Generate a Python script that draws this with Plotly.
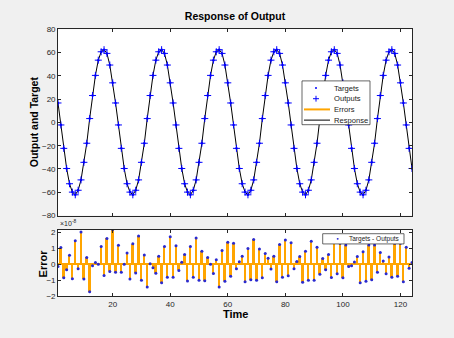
import plotly.graph_objects as go

# ---------------- data ----------------
time_steps = list(range(1, 125))

targets = [
    16.7, -2.2, -22.3, -39.6, -52.7, -59.9, -62.2, -58.3, -49.4, -34.3, -17.9, 3.3, 23.1, 40.4, 53.5, 60.7, 62.5, 59.3, 49.3, 34.0,
    16.7, -2.2, -22.3, -39.6, -52.7, -59.9, -62.2, -58.3, -49.4, -34.3, -17.9, 3.3, 23.1, 40.4, 53.5, 60.7, 62.5, 59.3, 49.3, 34.0,
    16.7, -2.2, -22.3, -39.6, -52.7, -59.9, -62.2, -58.3, -49.4, -34.3, -17.9, 3.3, 23.1, 40.4, 53.5, 60.7, 62.5, 59.3, 49.3, 34.0,
    16.7, -2.2, -22.3, -39.6, -52.7, -59.9, -62.2, -58.3, -49.4, -34.3, -17.9, 3.3, 23.1, 40.4, 53.5, 60.7, 62.5, 59.3, 49.3, 34.0,
    16.7, -2.2, -22.3, -39.6, -52.7, -59.9, -62.2, -58.3, -49.4, -34.3, -17.9, 3.3, 23.1, 40.4, 53.5, 60.7, 62.5, 59.3, 49.3, 34.0,
    16.7, -2.2, -22.3, -39.6, -52.7, -59.9, -62.2, -58.3, -49.4, -34.3, -17.9, 3.3, 23.1, 40.4, 53.5, 60.7, 62.5, 59.3, 49.3, 34.0,
    16.7, -2.2, -22.3, -39.6,
]

# errors (Targets - Outputs) in units of 1e-8
errors_e8 = [
    -0.15, 1.03, -0.85, -0.35, 0.55, -0.9, 1.45, -0.28, 2.0, -0.92,
    0.42, -1.72, -0.1, 0.1, 0.0, 1.1, -0.7, 1.6, -0.45, 2.15,
    -0.5, 1.17, -0.5, 0.0, 0.7, -0.92, 1.27, -0.55, 1.75, -1.0,
    0.57, -1.42, 0.02, -0.22, -0.57, 0.5, -1.15, 1.1, -0.82, 1.7,
    -0.82, 1.15, -0.4, 0.12, 0.6, -1.05, 1.1, -0.82, 1.63, -1.0,
    0.8, -1.03, 0.42, 0.0, -0.58, 0.28, -1.42, 0.85, -1.07, 1.37,
    -0.75, 1.3, -0.28, 0.15, 0.5, -1.1, 0.97, -0.97, 1.53, -1.0,
    0.95, -0.85, 0.67, 0.37, -0.3, 0.5, -1.1, 1.22, -0.82, 1.5,
    -0.72, 1.33, -0.28, 0.16, 0.47, -1.13, 0.8, -1.0, 1.42, -1.0,
    1.05, -0.63, 0.35, -0.35, 0.6, -0.83, 1.7, -0.6, 1.3, -0.85,
    1.2, -0.15, -0.1, 0.14, 0.47, -1.15, 0.78, -1.07, 1.2, -0.97,
    1.2, -0.5, 0.72, 0.2, -0.6, 0.45, -0.82, 1.3, -0.75, 1.3,
    -1.1, 1.05, -0.25, 0.1,
]

error_scale = 1e-8
outputs = [t - e * error_scale for t, e in zip(targets, errors_e8)]

x_ticks = [20, 40, 60, 80, 100, 120]
y_ticks_top = [-80, -60, -40, -20, 0, 20, 40, 60, 80]
y_ticks_bottom = [-2, -1, 0, 1, 2]

# ---------------- style ----------------
W, H = 454, 338
FONT = "Liberation Sans, Arial, Helvetica, sans-serif"
AX = "#262626"
BLUE = "#0000ff"
DOT = "#2a2ad0"
ORANGE = "#ffa500"
BG = "#f0f0f0"

def px(x):
    return x / W

def py(y):
    return 1 - y / H

dom_x = [px(58), px(412)]
dom_top = [py(217.3), py(26)]
dom_bot = [py(300.3), py(232.3)]

fig = go.Figure()

# error segments in top plot (targets -> outputs)
seg_x, seg_y = [], []
for t, a, b in zip(time_steps, targets, outputs):
    seg_x += [t, t, None]
    seg_y += [a, b, None]
fig.add_trace(go.Scatter(x=seg_x, y=seg_y, mode="lines", name="Errors",
                         line=dict(color=ORANGE, width=2), showlegend=False,
                         xaxis="x", yaxis="y"))
fig.add_trace(go.Scatter(x=time_steps, y=outputs, mode="lines", name="Response",
                         line=dict(color="black", width=1), showlegend=False,
                         xaxis="x", yaxis="y"))
fig.add_trace(go.Scatter(x=time_steps, y=outputs, mode="markers", name="Outputs",
                         marker=dict(symbol="cross-thin", size=5, color=BLUE,
                                     line=dict(color=BLUE, width=1)),
                         showlegend=False, xaxis="x", yaxis="y"))
fig.add_trace(go.Scatter(x=time_steps, y=targets, mode="markers", name="Targets",
                         marker=dict(symbol="circle", size=2.5, color=BLUE),
                         showlegend=False, xaxis="x", yaxis="y"))

# bottom: error stems + dots
fig.add_trace(go.Bar(x=time_steps, y=errors_e8, width=0.65, name="Errors",
                     marker=dict(color=ORANGE, line=dict(width=0)),
                     showlegend=False, xaxis="x2", yaxis="y2"))
fig.add_trace(go.Scatter(x=time_steps, y=errors_e8, mode="markers", name="Targets - Outputs",
                         marker=dict(symbol="circle", size=3, color=DOT),
                         showlegend=False, xaxis="x2", yaxis="y2"))

axis_common = dict(showline=True, linecolor=AX, linewidth=0.7, mirror="ticks",
                   ticks="inside", ticklen=3, tickcolor=AX, tickwidth=0.7,
                   showgrid=False, tickfont=dict(family=FONT, size=8, color=AX))

fig.update_layout(
    width=W, height=H,
    margin=dict(l=0, r=0, t=0, b=0, pad=0),
    paper_bgcolor=BG, plot_bgcolor="white",
    bargap=0, showlegend=False,
    font=dict(family=FONT, color=AX),
    xaxis=dict(domain=dom_x, range=[1, 124], tickvals=x_ticks, showticklabels=False,
               zeroline=False, anchor="y", **axis_common),
    yaxis=dict(domain=dom_top, range=[-80, 80], tickvals=y_ticks_top, zeroline=False,
               anchor="x", **axis_common),
    xaxis2=dict(domain=dom_x, range=[1, 124], tickvals=x_ticks, zeroline=False,
                anchor="y2", **axis_common),
    yaxis2=dict(domain=dom_bot, range=[-2, 2.12], tickvals=y_ticks_bottom,
                zeroline=True, zerolinecolor=ORANGE, zerolinewidth=2,
                anchor="x2", **axis_common),
    title=dict(text="Response of Output", x=px(235), xanchor="center",
               y=py(16), yanchor="middle",
               font=dict(family=FONT, size=10.5, color="black", weight="bold")),
)

ann = []
ann.append(dict(text="Output and Target", x=px(34), y=py(121.5), xref="paper", yref="paper",
                textangle=-90, showarrow=False, xanchor="center", yanchor="middle",
                font=dict(family=FONT, size=10.5, color="black", weight="bold")))
ann.append(dict(text="Error", x=px(43), y=py(266.5), xref="paper", yref="paper",
                textangle=-90, showarrow=False, xanchor="center", yanchor="middle",
                font=dict(family=FONT, size=11, color="black", weight="bold")))
ann.append(dict(text="Time", x=px(235), y=py(318), xref="paper", yref="paper",
                showarrow=False, xanchor="center", yanchor="middle",
                font=dict(family=FONT, size=11, color="black", weight="bold")))
ann.append(dict(text="\u00d710<sup>-8</sup>", x=px(58), y=py(231), xref="paper", yref="paper",
                showarrow=False, xanchor="left", yanchor="bottom",
                font=dict(family=FONT, size=7, color=AX)))

shapes = []
# ---- top legend (drawn manually) ----
shapes.append(dict(type="rect", xref="paper", yref="paper",
                   x0=px(302), x1=px(370), y0=py(124), y1=py(79),
                   fillcolor="white", line=dict(color=AX, width=0.7), layer="above"))
leg_items = ["Targets", "Outputs", "Errors", "Response"]
rows = [86.3, 97.3, 108.3, 119.3]
# Targets: dot
shapes.append(dict(type="circle", xref="paper", yref="paper",
                   x0=px(315), x1=px(317), y0=py(rows[0] + 1), y1=py(rows[0] - 1),
                   fillcolor=BLUE, line=dict(color=BLUE, width=0), layer="above"))
# Outputs: plus
shapes.append(dict(type="line", xref="paper", yref="paper",
                   x0=px(313), x1=px(319), y0=py(rows[1]), y1=py(rows[1]),
                   line=dict(color=BLUE, width=1), layer="above"))
shapes.append(dict(type="line", xref="paper", yref="paper",
                   x0=px(316), x1=px(316), y0=py(rows[1] - 3), y1=py(rows[1] + 3),
                   line=dict(color=BLUE, width=1), layer="above"))
# Errors: orange line
shapes.append(dict(type="line", xref="paper", yref="paper",
                   x0=px(304), x1=px(330), y0=py(rows[2]), y1=py(rows[2]),
                   line=dict(color=ORANGE, width=2), layer="above"))
# Response: black line
shapes.append(dict(type="line", xref="paper", yref="paper",
                   x0=px(304), x1=px(330), y0=py(rows[3]), y1=py(rows[3]),
                   line=dict(color="black", width=1), layer="above"))
for name, r in zip(leg_items, rows):
    ann.append(dict(text=name, x=px(332), y=py(r), xref="paper", yref="paper",
                    showarrow=False, xanchor="left", yanchor="middle",
                    font=dict(family=FONT, size=7.6, color="#1a1a1a")))

# ---- bottom legend ----
shapes.append(dict(type="rect", xref="paper", yref="paper",
                   x0=px(322.7), x1=px(404), y0=py(246.5), y1=py(236),
                   fillcolor="white", line=dict(color=AX, width=0.7), layer="above"))
shapes.append(dict(type="circle", xref="paper", yref="paper",
                   x0=px(336.7), x1=px(338.7), y0=py(242.3), y1=py(240.3),
                   fillcolor=DOT, line=dict(width=0), layer="above"))
ann.append(dict(text="Targets - Outputs", x=px(402), y=py(241.3), xref="paper", yref="paper",
                showarrow=False, xanchor="right", yanchor="middle",
                font=dict(family=FONT, size=6.5, color="#1a1a1a")))

fig.update_layout(annotations=ann, shapes=shapes)

fig.write_html(
    "out.html",
    config={"displayModeBar": False},
    post_script="document.body.style.margin='0';document.body.style.padding='0';"
                "document.body.style.background='#f0f0f0';"
                "document.documentElement.style.overflow='hidden';",
)
